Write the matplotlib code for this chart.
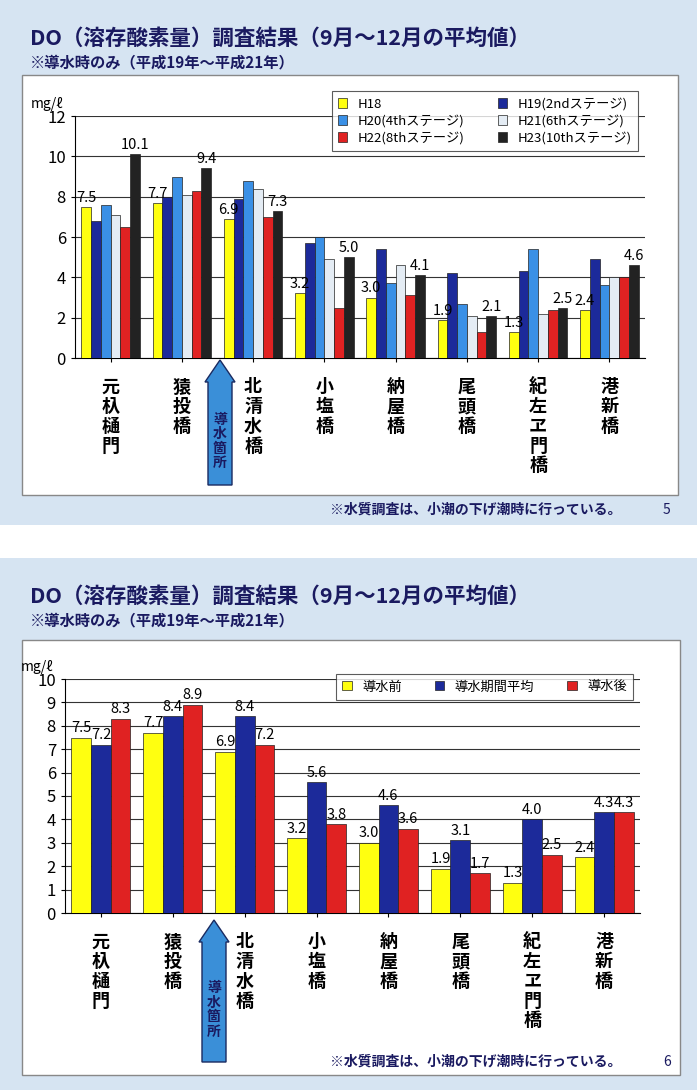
import matplotlib
matplotlib.use("Agg")
import matplotlib.pyplot as plt
from matplotlib.patches import Rectangle, FancyArrow
import numpy as np

plt.rcParams['font.family'] = ['Noto Sans CJK JP', 'DejaVu Sans']

cats = ['元杁樋門', '猿投橋', '北清水橋', '小塩橋', '納屋橋', '尾頭橋', '紀左ヱ門橋', '港新橋']
top_series = ['H18', 'H19(2ndステージ)', 'H20(4thステージ)', 'H21(6thステージ)', 'H22(8thステージ)', 'H23(10thステージ)']
h18 = [7.5, 7.7, 6.9, 3.2, 3.0, 1.9, 1.3, 2.4]
h19 = [6.8, 8.0, 7.9, 5.7, 5.4, 4.2, 4.3, 4.9]
h20 = [7.6, 9.0, 8.8, 6.0, 3.7, 2.7, 5.4, 3.6]
h21 = [7.1, 8.1, 8.4, 4.9, 4.6, 2.1, 2.2, 4.0]
h22 = [6.5, 8.3, 7.0, 2.5, 3.1, 1.3, 2.4, 4.0]
h23 = [10.1, 9.4, 7.3, 5.0, 4.1, 2.1, 2.5, 4.6]
top_vals = [h18, h19, h20, h21, h22, h23]
top_colors = ['#ffff10', '#1c2a9a', '#3a90e6', '#e4ecf4', '#e02222', '#222222']

bot_series = ['導水前', '導水期間平均', '導水後']
before = [7.5, 7.7, 6.9, 3.2, 3.0, 1.9, 1.3, 2.4]
during = [7.2, 8.4, 8.4, 5.6, 4.6, 3.1, 4.0, 4.3]
after = [8.3, 8.9, 7.2, 3.8, 3.6, 1.7, 2.5, 4.3]
bot_vals = [before, during, after]
bot_colors = ['#ffff10', '#1c2a9a', '#e02222']

W, H = 697, 1090
fig = plt.figure(figsize=(W/100, H/100), dpi=100)
fig.patch.set_facecolor('white')

def box(x0, y0, x1, y1, **kw):
    fig.patches.append(Rectangle((x0/W, 1-y1/H), (x1-x0)/W, (y1-y0)/H, transform=fig.transFigure, **kw))

def ax_px(x0, y0, x1, y1):
    a = fig.add_axes([x0/W, 1-y1/H, (x1-x0)/W, (y1-y0)/H])
    a.set_zorder(2)
    return a

def ftext(x, y, s, **kw):
    fig.text(x/W, 1-y/H, s, **kw)

navy = '#1a1a60'
for (py0, py1, bx0, by0, bx1, by1, fy, num) in [(0, 525, 22, 75, 678, 495, 510, '5'), (558, 1090, 22, 640, 680, 1075, 1062, '6')]:
    box(0, py0, W, py1, facecolor='#d6e4f2', edgecolor='none', zorder=0)
    box(bx0, by0, bx1, by1, facecolor='white', edgecolor='#888888', lw=1, zorder=0.5)
    ftext(30, py0+38, 'DO（溶存酸素量）調査結果（9月～12月の平均値）', fontsize=15.5, fontweight='bold', color=navy, va='center')
    ftext(30, py0+62, '※導水時のみ（平成19年～平成21年）', fontsize=11, fontweight='bold', color=navy, va='center')
    ftext(330, fy, '※水質調査は、小潮の下げ潮時に行っている。', fontsize=10, fontweight='bold', color=navy, va='center')
    ftext(663, fy, num, fontsize=10, color=navy, va='center')

def draw(ax, vals, colors, names, ymax, step, labelled, ncol, legloc):
    n = len(vals)
    x = np.arange(len(cats))
    w = 0.82 / n
    for i, (v, c, nm) in enumerate(zip(vals, colors, names)):
        bars = ax.bar(x - 0.41 + w*(i+0.5), v, w, color=c, edgecolor='#222222', lw=0.5, label=nm, zorder=3)
        if i in labelled:
            for b, val in zip(bars, v):
                ax.text(b.get_x()+b.get_width()/2, val+0.1, f'{val:.1f}', ha='center', va='bottom', fontsize=10.5, zorder=4)
    ax.set_xlim(-0.5, len(cats)-0.5)
    ax.set_ylim(0, ymax)
    ax.set_yticks(np.arange(0, ymax+0.1, step))
    ax.tick_params(axis='y', labelsize=12, length=3)
    ax.set_xticks(x)
    ax.set_xticklabels([])
    ax.tick_params(axis='x', length=3)
    ax.grid(axis='y', color='#333333', lw=0.8, zorder=0)
    for s in ['top', 'right']:
        ax.spines[s].set_visible(False)
    ax.set_facecolor('white')
    for xi, c in zip(x, cats):
        ax.annotate('\n'.join(c), (xi, 0), xytext=(0, -14), textcoords='offset points', ha='center', va='top',
                    fontsize=13, fontweight='bold', linespacing=1.05, annotation_clip=False)
    h, l = ax.get_legend_handles_labels()
    if ncol == 2:
        order = [0, 2, 4, 1, 3, 5]
        h = [h[k] for k in order]; l = [l[k] for k in order]
    leg = ax.legend(h, l, ncol=ncol, loc='upper right', bbox_to_anchor=legloc, fontsize=9.5, frameon=True,
                    fancybox=False, edgecolor='#333333', handlelength=0.7, handleheight=0.7, columnspacing=2.5,
                    borderpad=0.5, labelspacing=0.3)
    leg.get_frame().set_linewidth(0.8)
    leg.set_zorder(5)
    ax.text(-0.02, 1.02, 'mg/ℓ', transform=ax.transAxes, ha='right', va='bottom', fontsize=10)

ax1 = ax_px(75, 116, 645, 358)
draw(ax1, top_vals, top_colors, top_series, 12, 2, [0, 5], 2, (1.0, 1.13))
ax2 = ax_px(65, 679, 640, 913)
draw(ax2, bot_vals, bot_colors, bot_series, 10, 1, [0, 1, 2], 3, (1.0, 1.05))

for (xc, ytip, ybot) in [(220, 360, 485), (214, 920, 1062)]:
    fig.patches.append(FancyArrow(xc/W, 1-ybot/H, 0, (ybot-ytip)/H, width=24/W, head_width=30/W,
                                  head_length=22/H, length_includes_head=True, transform=fig.transFigure,
                                  facecolor='#3a8fd8', edgecolor='#1a2a60', lw=1, zorder=6))
    ftext(xc, (ytip+22+ybot)/2+8, '\n'.join('導水箇所'), fontsize=10, fontweight='bold', color=navy,
          ha='center', va='center', linespacing=1.05, zorder=7)

fig.savefig('out.png', dpi=100)
